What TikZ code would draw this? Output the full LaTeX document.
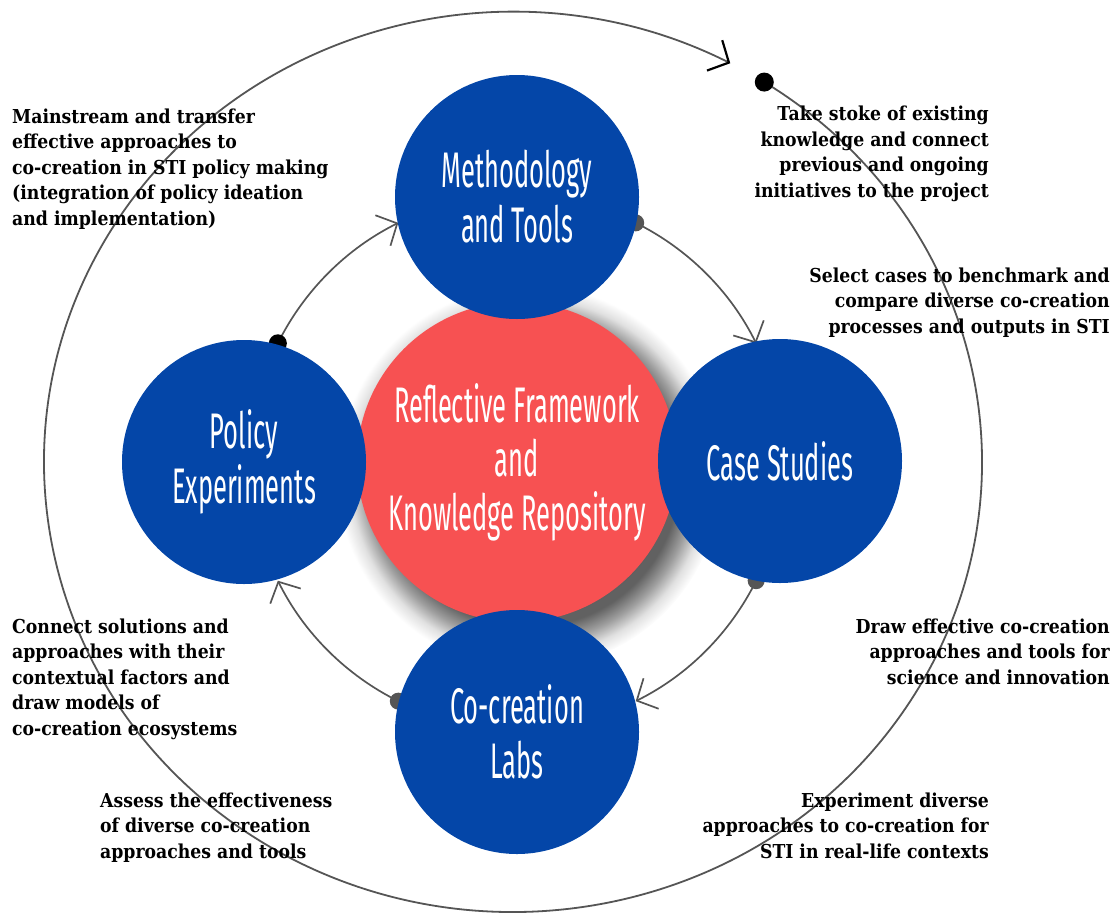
\documentclass[tikz,border=0pt]{standalone}
\usepackage{fontspec}
\newfontfamily\condfont[FakeStretch=0.51]{Fira Sans}
\newfontfamily\bodyfont[FakeStretch=0.9]{DejaVu Serif}
\usetikzlibrary{arrows.meta,calc}
\definecolor{cblue}{RGB}{4,70,168}
\definecolor{cred}{RGB}{247,81,82}
\definecolor{cgray}{RGB}{85,85,85}
\pgfdeclareradialshading{softshadow}{\pgfpoint{0bp}{0bp}}{color(0bp)=(black!65); color(19.5bp)=(black!62); color(21.5bp)=(black!38); color(23.3bp)=(black!12); color(25bp)=(white); color(50bp)=(white)}
\tikzset{
  bluec/.style={circle, fill=cblue, minimum size=244pt, inner sep=0pt, text=white, align=center, font=\condfont\fontsize{50}{55}\selectfont},
  redc/.style={circle, fill=cred, minimum size=320pt, inner sep=0pt, text=white, align=center, font=\condfont\fontsize{50}{54}\selectfont},
  conn/.style={draw=cgray, line width=1.7pt, -{Straight Barb[length=16pt,width=34pt,line width=1.7pt]}},
  outerl/.style={draw=cgray, line width=1.8pt, -{Straight Barb[length=16pt,width=34pt,line width=2.2pt,color=black]}},
  bdot/.style={circle, fill=black, minimum size=18pt, inner sep=0pt},
  gdot/.style={circle, fill=cgray, minimum size=17pt, inner sep=0pt},
  note/.style={font=\bodyfont\bfseries\fontsize{19.2}{25.5}\selectfont, inner sep=0pt, text=black},
}
\begin{document}
\begin{tikzpicture}[x=1pt,y=-1pt]
\useasboundingbox (0,0) rectangle (1117,916);
\coordinate (O) at (517,462);
\coordinate (E) at (513,462);
% outer cycle
\coordinate (oS) at ($(E)+(-57.6:469 and 450)$);
\draw[outerl] (oS) arc[start angle=-57.6, end angle=297.6, x radius=469, y radius=450];
\node[bdot, minimum size=19pt] (dO) at (oS) {};
% shadow and central circle
\shade[shading=softshadow] (529,477) circle (192);
\node[redc] (R) at (O) {Reflective Framework\\and\\Knowledge Repository};
% inner connectors
\coordinate (pP) at ($(O)+(206.4:267)$);
\coordinate (pM) at ($(O)+(296.4:267)$);
\coordinate (pC) at ($(O)+(26.4:267)$);
\coordinate (pL) at ($(O)+(116.4:267)$);
\draw[conn] (pP) arc[start angle=206.4, end angle=243.6, radius=267];
\draw[conn] (pM) arc[start angle=296.4, end angle=333.6, radius=267];
\draw[conn] (pC) arc[start angle=26.4, end angle=63.6, radius=267];
\draw[conn] (pL) arc[start angle=116.4, end angle=153.6, radius=267];
\node[bdot] (dP) at (pP) {};
\node[gdot] (dM) at (pM) {};
\node[gdot] (dC) at (pC) {};
\node[gdot] (dL) at (pL) {};
% blue circles
\node[bluec] (M) at (517,197) {Methodology\\and Tools};
\node[bluec] (C) at (780,461) {Case Studies};
\node[bluec] (L) at (517,732) {Co-creation\\Labs};
\node[bluec] (P) at (244,462) {Policy\\Experiments};
% notes (base anchor = baseline of the last line)
\node[note, align=left, anchor=base west] (t1) at (12,225) {Mainstream and transfer\\effective approaches to\\co-creation in STI policy making\\(integration of policy ideation\\and implementation)};
\node[note, align=right, anchor=base east] (t2) at (989,197) {Take stoke of existing\\knowledge and connect\\previous and ongoing\\initiatives to the project};
\node[note, align=right, anchor=base east] (t3) at (1110,333) {Select cases to benchmark and\\compare diverse co-creation\\processes and outputs in STI};
\node[note, align=left, anchor=base west] (t4) at (12,735) {Connect solutions and\\approaches with their\\contextual factors and\\draw models of\\co-creation ecosystems};
\node[note, align=right, anchor=base east] (t5) at (1110,684) {Draw effective co-creation\\approaches and tools for\\science and innovation};
\node[note, align=left, anchor=base west] (t6) at (100,858) {Assess the effectiveness\\of diverse co-creation\\approaches and tools};
\node[note, align=right, anchor=base east] (t7) at (989,858) {Experiment diverse\\approaches to co-creation for\\STI in real-life contexts};
\end{tikzpicture}
\end{document}
